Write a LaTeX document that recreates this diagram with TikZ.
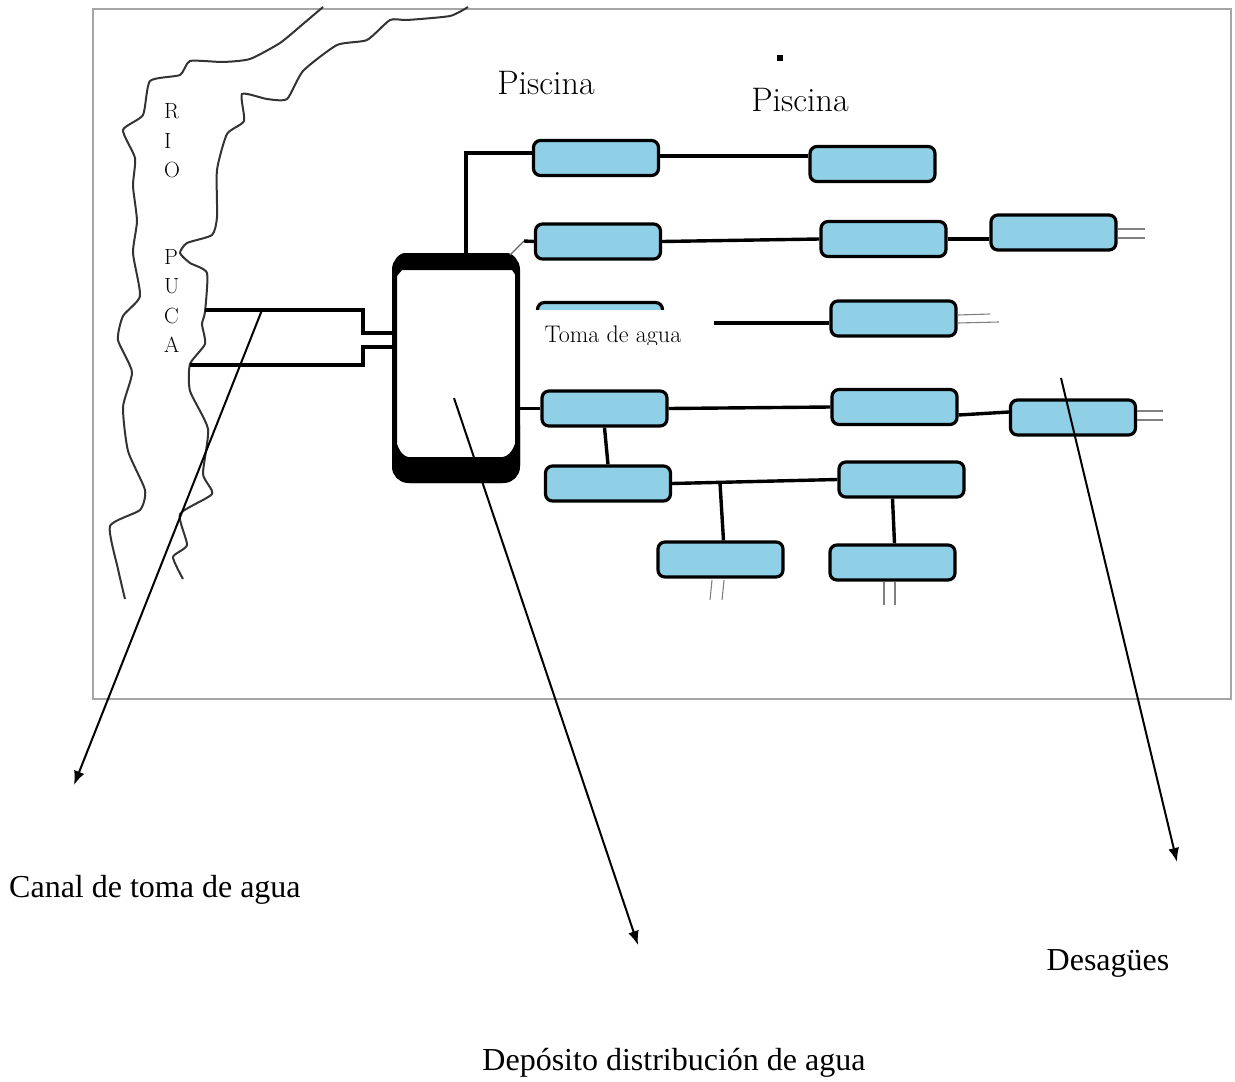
\documentclass[tikz,border=0pt]{standalone}
\usepackage{fontspec}
\usetikzlibrary{arrows.meta}
\newfontfamily\timesfont{Liberation Serif}
\definecolor{poolblue}{RGB}{143,208,230}
\tikzset{
  pool/.style={shape=rectangle,draw=black,fill=poolblue,line width=3.2pt,
    rounded corners=7pt,minimum width=125pt,minimum height=35pt,inner sep=0pt},
  pipe/.style={line width=3.4pt,color=black},
  drain/.style={line width=1.1pt,color=black!50},
  bank/.style={line width=2pt,color=black!80,smooth,tension=.35},
  pointer/.style={line width=2pt,-{Latex[length=14pt,width=11pt]}},
  caption/.style={inner sep=0pt,font=\timesfont\fontsize{32}{34}\selectfont},
  poollabel/.style={inner sep=0pt,font=\fontsize{34}{36}\selectfont}
}
\begin{document}
\begin{tikzpicture}[x=1pt,y=-1pt]
      \useasboundingbox (0,0) rectangle (1235,1082);

      % frame
      \draw[line width=2pt,color=black!35] (93,9) rectangle (1231,699);

      % river
      \draw[bank] plot coordinates {
        (323,7) (303,24) (280,43) (250,59) (223,62) (190,61) (180,75)
        (150,81) (143,115) (123,130) (135,158) (133,186) (137,221)
        (133,253) (140,296) (123,316) (118,340) (132,372) (123,407)
        (128,451) (145,490) (140,510) (110,526) (118,569) (125,599)};
      \draw[bank] plot coordinates {
        (468,7) (450,16) (407,20) (390,20) (367,40) (337,45) (303,71)
        (287,99) (267,99) (242,94) (244,121) (227,134) (217,170) (217,217)
        (212,235) (187,243) (180,253) (190,263) (207,273) (205,312)
        (202,324) (205,344) (190,364) (190,391) (208,429) (203,474)
        (212,494) (180,514) (187,545) (173,557) (183,579)};

      \node (rio) at (164,141) [anchor=west,inner sep=0pt,align=left,
        font=\fontsize{22}{29.5}\selectfont] {R\\I\\O};
      \node (puca) at (164,301) [anchor=west,inner sep=0pt,align=left,
        font=\fontsize{22}{29.5}\selectfont] {P\\U\\C\\A};

      % deposit
      \node (dep) at (456,368) [shape=rectangle,draw=black,fill=white,
        line width=5pt,rounded corners=14pt,minimum width=123pt,
        minimum height=225pt] {};
      \fill (404,253) -- (508,253) .. controls (516,255) and (520,262) .. (520,282)
        -- (512,270) -- (402,270) -- (392,282)
        .. controls (392,262) and (396,255) .. (404,253) -- cycle;
      \fill (392,425) -- (392,465) .. controls (392,476) and (400,483) .. (410,483)
        -- (502,483) .. controls (512,483) and (520,476) .. (520,465) -- (520,425)
        .. controls (516,445) and (512,455) .. (503,457) -- (408,457)
        .. controls (400,455) and (396,445) .. (392,425) -- cycle;

      % pools
      \node (pa) at (596,158) [pool] {};
      \node (pb) at (872.5,164) [pool] {};
      \node (qa) at (598,241.5) [pool] {};
      \node (qb) at (883.5,239) [pool] {};
      \node (qc) at (1053.5,232.5) [pool] {};
      \node (ra) at (600,320) [pool] {};
      \node (rb) at (893.5,318.5) [pool] {};
      \node (sa) at (604.5,408.5) [pool] {};
      \node (sb) at (894.5,407) [pool] {};
      \node (sc) at (1073,417.5) [pool] {};
      \node (ta) at (608,483.5) [pool] {};
      \node (tb) at (901.5,479.5) [pool] {};
      \node (ua) at (720.5,559.5) [pool] {};
      \node (ub) at (892.5,562.5) [pool] {};

      % canal
      \coordinate (canalup) at (205,310);
      \coordinate (canallow) at (190,365);
      \draw[pipe] (canalup) -- (363,310) -- (363,333) -- (dep.west |- 0,333);
      \draw[pipe] (canallow) -- (363,365) -- (363,347) -- (dep.west |- 0,347);

      % pipes
      \draw[pipe] ([yshift=5pt]pa.west) -| ([xshift=10pt]dep.north);
      \draw[line width=1.2pt,color=black!60] (510,255) -- (524,241);
      \draw[pipe] (524,241) -- (qa.west);
      \draw[pipe] (dep.east |- sa.west) -- (sa.west);
      \draw[pipe] ([yshift=2pt]pa.east) -- (pb.west |- 0,156);
      \draw[pipe] (qa.east) -- (qb.west);
      \draw[pipe] (qb.east) -- (qc.west |- 0,239);
      \draw[pipe] (sa.east) -- (sb.west);
      \draw[pipe] (sb.east |- 0,415) -- (sc.west |- 0,412);
      \draw[pipe] (sa.south) -- (ta.north);
      \draw[pipe] (ta.east) -- (tb.west);
      \coordinate (branch) at (720,483);
      \draw[pipe] (branch) -- ([xshift=3pt]ua.north);
      \draw[pipe] ([xshift=-9pt]tb.south) -- ([xshift=2pt]ub.north);

      % drains
      \draw[drain] (qc.east |- 0,229) -- (1145,229);
      \draw[drain] (qc.east |- 0,238) -- (1145,238);
      \draw[drain] (rb.east |- 0,315) -- (990,314);
      \draw[drain] (rb.east |- 0,323) -- (999,322);
      \draw[drain] (sc.east |- 0,411) -- (1163,411);
      \draw[drain] (sc.east |- 0,420) -- (1163,420);
      \draw[drain] (712,580) -- (710,600);
      \draw[drain] (724,580) -- (722,600);
      \draw[drain] (884,582) -- (884,605);
      \draw[drain] (895,582) -- (895,605);

      % patch over the third row
      \fill[white] (527,310) rectangle (714,340);
      \node (toma) at (613,337) [inner sep=0pt,font=\fontsize{24}{26}\selectfont]
        {Toma de agua};
      \fill[white] (527,345) rectangle (714,354);
      \draw[pipe] (714,323) -- (rb.west |- 0,323);

      \path node (dot) at (780,58) [shape=rectangle,fill=black,
        minimum size=6pt,inner sep=0pt] {};

      % labels
      \path node (pisa) at (546,83) [poollabel] {Piscina};
      \path node (pisb) at (800,100) [poollabel] {Piscina};
      \path node (canal) at (9,890) [caption,anchor=west] {Canal de toma de agua};
      \path node (dep2) at (674,1063) [caption] {Dep\'osito distribuci\'on de agua};
      \path node (desag) at (1108,963) [caption] {Desag\"ues};

      % pointers
      \coordinate (canalfrom) at (262,310);
      \coordinate (canalto) at (74,785);
      \coordinate (depfrom) at (454,398);
      \coordinate (depto) at (638,945);
      \coordinate (desfrom) at (1061,378);
      \coordinate (desto) at (1177,862);
      \draw[pointer] (canalfrom) -- (canalto);
      \draw[pointer] (depfrom) -- (depto);
      \draw[pointer] (desfrom) -- (desto);
\end{tikzpicture}
\end{document}
